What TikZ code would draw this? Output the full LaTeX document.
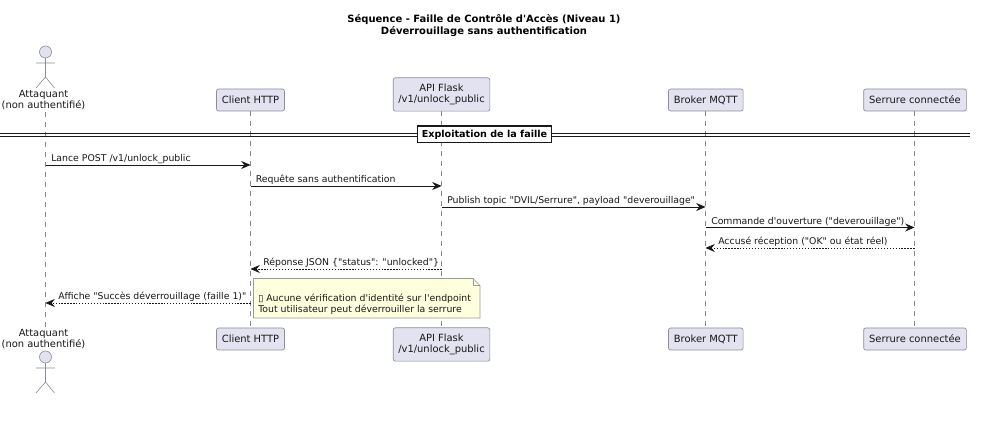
\documentclass[tikz,border=0pt]{standalone}
\usepackage{fontspec}
\setmainfont{DejaVu Sans}
\newfontfamily\plainf{DejaVu Sans}
\usetikzlibrary{arrows.meta}
\definecolor{partfill}{HTML}{E2E2F0}
\definecolor{partline}{HTML}{8C8C9A}
\definecolor{lifeline}{HTML}{8A8A8A}
\definecolor{notefill}{HTML}{FEFFDD}
\definecolor{noteline}{HTML}{9A9A9A}
\definecolor{ink}{HTML}{181818}
\tikzset{
  x=0.75pt,y=-0.75pt,
  partbox/.style={draw=partline,fill=partfill,rounded corners=1.6pt,line width=0.5pt,text=ink,font=\plainf\fontsize{7.45}{8.3}\selectfont,align=center,inner sep=0pt,minimum height=16.5pt},
  actorlabel/.style={text=ink,font=\plainf\fontsize{7.45}{8.3}\selectfont,align=center,inner sep=0pt},
  lifel/.style={draw=lifeline,line width=0.4pt,dash pattern=on 3.75pt off 3.75pt},
  actorline/.style={draw=partline,line width=0.45pt},
  msg/.style={draw=ink,line width=0.5pt,-{Stealth[length=7pt,width=6pt,inset=2.4pt]}},
  reply/.style={msg,dash pattern=on 1pt off 1.2pt},
  msglabel/.style={text=ink,font=\plainf\fontsize{7}{8.3}\selectfont,inner sep=0pt,anchor=base west},
  titlelabel/.style={font=\plainf\bfseries\fontsize{7.5}{9}\selectfont,align=center,inner sep=0pt,text=black},
}
\begin{document}
\begin{tikzpicture}
\useasboundingbox (0,0) rectangle (997,423);
\fill[white] (0,0) rectangle (997,423);
\node[titlelabel] (title) at (484,26) {Séquence - Faille de Contrôle d'Accès (Niveau 1)\\Déverrouillage sans authentification};

% lifeline anchors
\coordinate (a1) at (45.5,112); \coordinate (a2) at (45.5,328);
\coordinate (b1) at (250.5,111); \coordinate (b2) at (250.5,328);
\coordinate (c1) at (441.5,111); \coordinate (c2) at (441.5,328);
\coordinate (d1) at (705.5,111); \coordinate (d2) at (705.5,328);
\coordinate (e1) at (914.5,111); \coordinate (e2) at (914.5,328);
\draw[lifel] (a1) -- (a2);
\draw[lifel] (b1) -- (b2);
\draw[lifel] (c1) -- (c2);
\draw[lifel] (d1) -- (d2);
\draw[lifel] (e1) -- (e2);

% top participants
\node[partbox,minimum width=51pt] (clientT) at (250.5,100) {Client HTTP};
\node[partbox,minimum width=72.5pt,minimum height=25pt] (apiT) at (441.5,94.5) {API Flask\\/v1/unlock\_public};
\node[partbox,minimum width=56pt] (brokerT) at (705.8,100) {Broker MQTT};
\node[partbox,minimum width=77pt] (serT) at (915,100) {Serrure connectée};
% bottom participants
\node[partbox,minimum width=51pt] (clientB) at (250.5,339) {Client HTTP};
\node[partbox,minimum width=72.5pt,minimum height=25pt] (apiB) at (441.5,344.5) {API Flask\\/v1/unlock\_public};
\node[partbox,minimum width=56pt] (brokerB) at (705.8,339) {Broker MQTT};
\node[partbox,minimum width=77pt] (serB) at (915,339) {Serrure connectée};

% actors
\node[actorlabel] (actT) at (43.5,100.5) {Attaquant\\(non authentifié)};
\node[actorlabel] (actB) at (43.5,339.5) {Attaquant\\(non authentifié)};
\draw[actorline,fill=partfill] (45.5,52) circle[radius=6];
\draw[actorline] (45.5,58) -- (45.5,77) (36,63) -- (54.5,63) (45.5,77) -- (36,88) (45.5,77) -- (54.5,88);
\draw[actorline,fill=partfill] (45.5,357) circle[radius=6];
\draw[actorline] (45.5,363) -- (45.5,382) (36,368) -- (54.5,368) (45.5,382) -- (36,393) (45.5,382) -- (54.5,393);

% divider
\coordinate (divL) at (0,134.5); \coordinate (divR) at (970,134.5);
\draw[draw=ink,line width=0.6pt] (0,133) -- (970,133) (0,136) -- (970,136);
\node[draw=ink,fill=white,line width=1pt,minimum width=100.5pt,minimum height=12.5pt,inner sep=0pt,font=\plainf\bfseries\fontsize{7.2}{9}\selectfont,text=black] (divider) at (484.5,134.5) {Exploitation de la faille};

% messages
\coordinate (m1a) at (45.5,165);  \coordinate (m1b) at (250.5,165);
\coordinate (m2a) at (250.5,186); \coordinate (m2b) at (441.5,186);
\coordinate (m3a) at (441.5,207); \coordinate (m3b) at (705.5,207);
\coordinate (m4a) at (705.5,227.5); \coordinate (m4b) at (914.5,227.5);
\coordinate (m5a) at (914.5,248); \coordinate (m5b) at (705.5,248);
\coordinate (m6a) at (441.5,269); \coordinate (m6b) at (250.5,269);
\coordinate (m7a) at (250.5,303); \coordinate (m7b) at (45.5,303);
\draw[msg] (m1a) -- (m1b);
\draw[msg] (m2a) -- (m2b);
\draw[msg] (m3a) -- (m3b);
\draw[msg] (m4a) -- (m4b);
\draw[reply] (m5a) -- (m5b);
\draw[reply] (m6a) -- (m6b);
\draw[reply] (m7a) -- (m7b);
\node[msglabel] (l1) at (51,162) {Lance POST /v1/unlock\_public};
\node[msglabel] (l2) at (255.5,183) {Requête sans authentification};
\node[msglabel] (l3) at (447,204) {Publish topic "DVIL/Serrure", payload "deverouillage"};
\node[msglabel] (l4) at (711,224.5) {Commande d'ouverture ("deverouillage")};
\node[msglabel] (l5) at (718,245) {Accusé réception ("OK" ou état réel)};
\node[msglabel] (l6) at (263,266) {Réponse JSON \{"status": "unlocked"\}};
\node[msglabel] (l7) at (58,300) {Affiche "Succès déverrouillage (faille 1)"};

% note
\draw[draw=noteline,fill=notefill,line width=0.5pt] (253.5,278.5) -- (473,278.5) -- (480,285.5) -- (480,318) -- (253.5,318) -- cycle;
\draw[draw=noteline,line width=0.5pt] (473,278.5) -- (473,285.5) -- (480,285.5);
\node[msglabel] (n1) at (258,302) {▯ Aucune vérification d'identité sur l'endpoint};
\node[msglabel] (n2) at (258,313) {Tout utilisateur peut déverrouiller la serrure};
\end{tikzpicture}
\end{document}
